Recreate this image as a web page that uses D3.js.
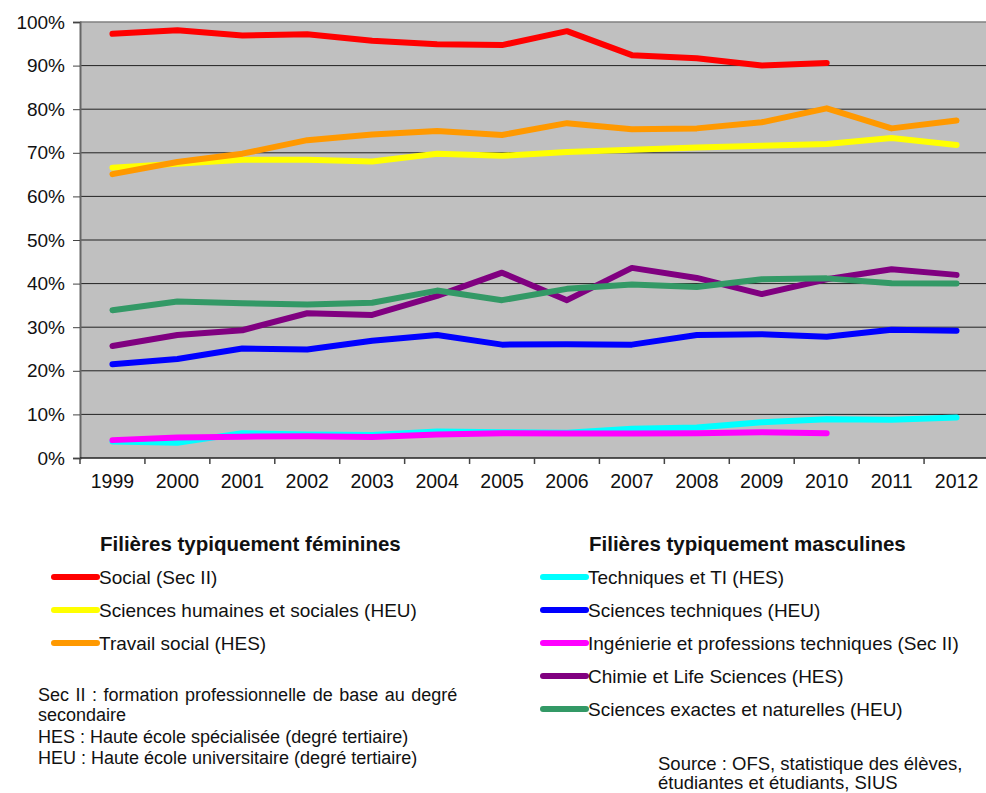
<!DOCTYPE html>
<html>
<head>
<meta charset="utf-8">
<script src="https://cdn.jsdelivr.net/npm/d3@7"></script>
<style>
  body { margin: 0; background: #fff; }
  svg { display: block; font-family: "Liberation Sans", Arial, sans-serif; }
</style>
</head>
<body>
<script>
// years on the x axis
var years = [1999, 2000, 2001, 2002, 2003, 2004, 2005, 2006, 2007, 2008, 2009, 2010, 2011, 2012];
var yTicks = [0, 10, 20, 30, 40, 50, 60, 70, 80, 90, 100];

// series values (% women)
var social       = [97.3, 98.1, 96.9, 97.2, 95.7, 94.9, 94.7, 97.9, 92.4, 91.7, 90.0, 90.6, null, null];
var scHumaines   = [66.6, 67.5, 68.4, 68.4, 68.0, 69.8, 69.3, 70.2, 70.7, 71.2, 71.6, 72.0, 73.4, 71.8];
var travSocial   = [65.1, 67.9, 69.8, 72.9, 74.2, 75.0, 74.1, 76.8, 75.4, 75.6, 77.0, 80.2, 75.6, 77.4];
var techTI       = [3.8, 3.5, 5.7, 5.4, 5.3, 6.1, 5.9, 5.8, 6.7, 7.0, 8.2, 8.9, 8.8, 9.3];
var scTechniques = [21.5, 22.7, 25.1, 24.9, 26.9, 28.2, 26.0, 26.1, 26.0, 28.2, 28.4, 27.8, 29.4, 29.2];
var ingenierie   = [4.1, 4.7, 4.9, 5.0, 4.8, 5.4, 5.7, 5.6, 5.6, 5.7, 5.9, 5.7, null, null];
var chimie       = [25.7, 28.2, 29.3, 33.2, 32.8, 37.2, 42.5, 36.2, 43.6, 41.3, 37.6, 41.0, 43.3, 42.0];
var scExactes    = [33.9, 35.9, 35.5, 35.2, 35.6, 38.4, 36.2, 38.8, 39.8, 39.2, 41.0, 41.2, 40.1, 40.0];

var femNames = ["Social (Sec II)", "Sciences humaines et sociales (HEU)", "Travail social (HES)"];
var mascNames = ["Techniques et TI (HES)", "Sciences techniques (HEU)", "Ingénierie et professions techniques (Sec II)",
                 "Chimie et Life Sciences (HES)", "Sciences exactes et naturelles (HEU)"];
var notes = ["Sec II :  formation professionnelle de base au degré", "secondaire",
             "HES : Haute école spécialisée (degré tertiaire)", "HEU : Haute école universitaire  (degré tertiaire)"];
var sourceLines = ["Source : OFS, statistique des élèves,", "étudiantes et étudiants, SIUS"];

var series = [
  {name: femNames[0], values: social, color: "#ff0000"},
  {name: femNames[1], values: scHumaines, color: "#ffff00"},
  {name: femNames[2], values: travSocial, color: "#ff9900"},
  {name: mascNames[0], values: techTI, color: "#00ffff"},
  {name: mascNames[1], values: scTechniques, color: "#0000ff"},
  {name: mascNames[2], values: ingenierie, color: "#ff00ff"},
  {name: mascNames[3], values: chimie, color: "#800080"},
  {name: mascNames[4], values: scExactes, color: "#339966"}
];

var W = 986, H = 793;
var pLeft = 80, pRight = 989, pTop = 22, pBottom = 458;

var svg = d3.select("body").append("svg").attr("width", W).attr("height", H);

var x = d3.scaleBand().domain(years).range([pLeft, pRight]).padding(0);
var y = d3.scaleLinear().domain([0, 100]).range([pBottom, pTop]);

// plot background
svg.append("rect").attr("x", pLeft).attr("y", pTop)
  .attr("width", pRight - pLeft).attr("height", pBottom - pTop).attr("fill", "#c0c0c0");

// gridlines
svg.append("g").selectAll("line").data(yTicks.filter(function(d){return d > 0;})).enter()
  .append("line")
  .attr("x1", pLeft).attr("x2", pRight)
  .attr("y1", function(d){return y(d);}).attr("y2", function(d){return y(d);})
  .attr("stroke", function(d){return d == 100 ? "#808080" : "#222";})
  .attr("stroke-width", function(d){return d == 100 ? 1.5 : 1;});

// y axis
var yAxis = svg.append("g").attr("transform", "translate(" + pLeft + ",0)")
  .call(d3.axisLeft(y).tickValues(yTicks).tickSize(7).tickPadding(8)
    .tickFormat(function(d){return d + "%";}));
yAxis.select(".domain").attr("stroke", "#666").attr("stroke-width", 2);
yAxis.selectAll(".tick line").attr("stroke", "#444");
yAxis.selectAll("text").attr("font-size", 19).attr("fill", "#111")
  .attr("font-family", "Liberation Sans, Arial, sans-serif");

// x axis: labels centered, ticks between categories
var xAxis = svg.append("g").attr("transform", "translate(0," + pBottom + ")")
  .call(d3.axisBottom(x).tickSize(0).tickPadding(16));
xAxis.select(".domain").remove();
xAxis.selectAll("text").attr("font-size", 19.5).attr("fill", "#111")
  .attr("font-family", "Liberation Sans, Arial, sans-serif");
svg.append("line").attr("x1", pLeft).attr("x2", pRight).attr("y1", pBottom).attr("y2", pBottom)
  .attr("stroke", "#222").attr("stroke-width", 1.5);
svg.append("g").selectAll("line").data(years.concat(["end"])).enter()
  .append("line")
  .attr("x1", function(d){return d == "end" ? pRight : x(d);})
  .attr("x2", function(d){return d == "end" ? pRight : x(d);})
  .attr("y1", pBottom).attr("y2", pBottom + 6)
  .attr("stroke", "#444").attr("stroke-width", 1.5);

// lines
var line = d3.line()
  .defined(function(d){return d != null;})
  .x(function(d, i){return x(years[i]) + x.bandwidth() / 2;})
  .y(function(d){return y(d);});

svg.append("g").selectAll("path").data(series).enter()
  .append("path")
  .attr("d", function(d){return line(d.values);})
  .attr("fill", "none")
  .attr("stroke", function(d){return d.color;})
  .attr("stroke-width", 6)
  .attr("stroke-linejoin", "round")
  .attr("stroke-linecap", "round");

// legends
function legend(gx, titleX, title, items) {
  var g = svg.append("g");
  g.append("text").attr("x", titleX).attr("y", 551).attr("font-size", 20.5)
    .attr("font-weight", "bold").attr("fill", "#111").text(title);
  var it = g.selectAll(".item").data(items).enter().append("g")
    .attr("transform", function(d, i){return "translate(" + gx + "," + (577 + i * 33) + ")";});
  it.append("line").attr("x1", 0).attr("x2", 43).attr("y1", 0).attr("y2", 0)
    .attr("stroke", function(d){return d.color;}).attr("stroke-width", 6)
    .attr("stroke-linecap", "round");
  it.append("text").attr("x", 45).attr("y", 7).attr("font-size", 19).attr("fill", "#111")
    .text(function(d){return d.name;});
}
legend(54, 100, "Filières typiquement féminines", series.slice(0, 3));
legend(543, 589, "Filières typiquement masculines", series.slice(3));

svg.append("g").selectAll("text").data(notes).enter()
  .append("text")
  .attr("x", 38)
  .attr("y", function(d, i){return [701, 721, 743, 764][i];})
  .attr("font-size", 18).attr("fill", "#111")
  .attr("word-spacing", function(d, i){return i == 0 ? 1.5 : 0;})
  .text(function(d){return d;});

svg.append("g").selectAll("text").data(sourceLines).enter()
  .append("text")
  .attr("x", 658)
  .attr("y", function(d, i){return 770 + i * 19;})
  .attr("font-size", 18.5).attr("fill", "#111")
  .text(function(d){return d;});
</script>
</body>
</html>
